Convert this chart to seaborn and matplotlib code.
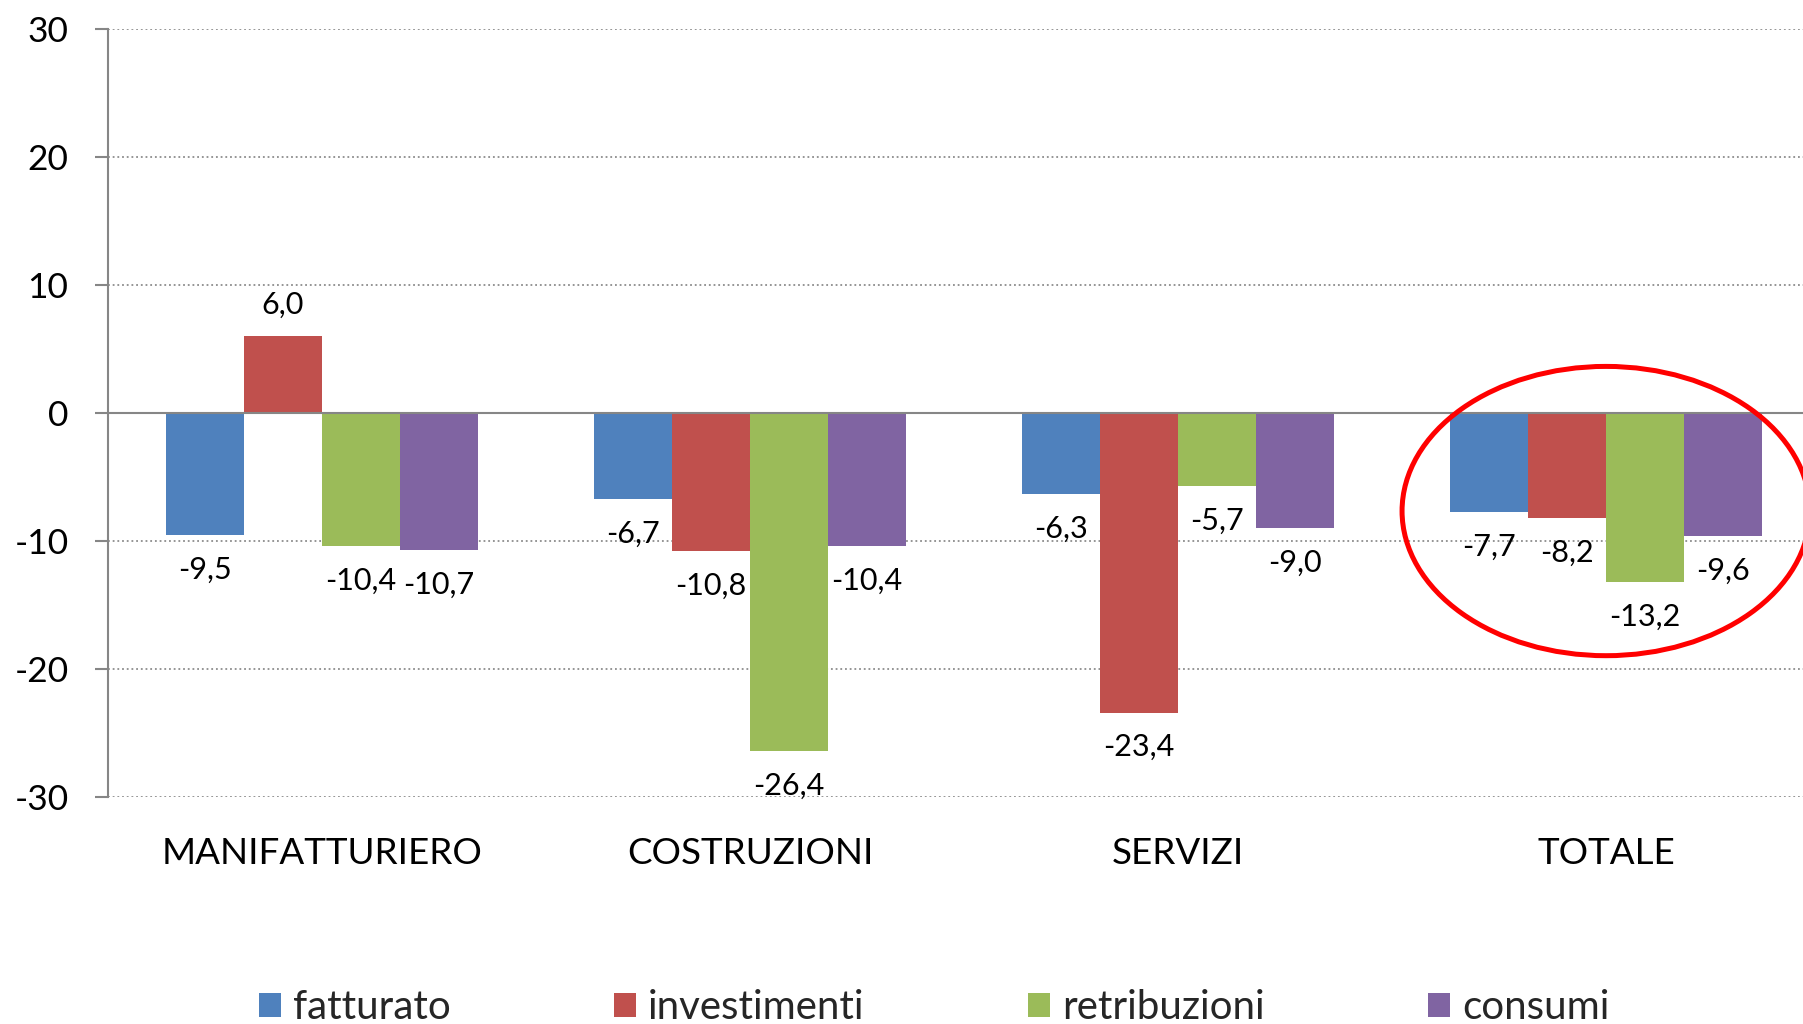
import matplotlib
matplotlib.use("Agg")
import matplotlib.pyplot as plt
from matplotlib.patches import Ellipse, Patch
import seaborn as sns
import pandas as pd

# Sectors and indicators
categories = ["MANIFATTURIERO", "COSTRUZIONI", "SERVIZI", "TOTALE"]
series_names = ["fatturato", "investimenti", "retribuzioni", "consumi"]

fatturato = [-9.5, -6.7, -6.3, -7.7]
investimenti = [6.0, -10.8, -23.4, -8.2]
retribuzioni = [-10.4, -26.4, -5.7, -13.2]
consumi = [-10.7, -10.4, -9.0, -9.6]

y_ticks = [-30, -20, -10, 0, 10, 20, 30]

colors = ["#4F81BD", "#C0504D", "#9BBB59", "#8064A2"]

sns.set_theme(style="white")
plt.rcParams["font.family"] = ["Lato", "DejaVu Sans"]

rows = []
for name, vals in zip(series_names, [fatturato, investimenti, retribuzioni, consumi]):
    for cat, v in zip(categories, vals):
        rows.append({"settore": cat, "indicatore": name, "valore": v})
df = pd.DataFrame(rows)

W, H = 1803, 1024
fig = plt.figure(figsize=(W / 100, H / 100), dpi=100)
ax = fig.add_axes([108 / W, 1 - 797 / H, 1712 / W, 768 / H])

sns.barplot(data=df, x="settore", y="valore", hue="indicatore",
            order=categories, hue_order=series_names, palette=colors,
            width=0.73, errorbar=None, saturation=1, ax=ax, zorder=3,
            edgecolor="none", linewidth=0)

ax.set_xlim(-0.5, 3.5)
ax.set_ylim(-30, 30)
ax.set_yticks(y_ticks)
ax.set_yticklabels([str(t) for t in y_ticks])
ax.set_xlabel("")
ax.set_ylabel("")

grid_color = "#8C8C8C"
for t in y_ticks:
    if t == 0:
        ax.axhline(0, color="#868686", lw=1.5, zorder=4)
    else:
        ax.axhline(t, color=grid_color, lw=1.3, ls=(0, (1, 1.6)), zorder=1)

for s in ["top", "right", "bottom"]:
    ax.spines[s].set_visible(False)
ax.spines["left"].set_color("#868686")
ax.spines["left"].set_linewidth(1.5)

ax.tick_params(axis="y", which="major", left=True, length=9.5, width=1.5,
               color="#868686", pad=19, labelsize=25.5, labelcolor="black")
ax.tick_params(axis="x", bottom=False, pad=23, labelsize=26.5, labelcolor="black")

# value labels beneath negative bars, above positive ones
for container, vals in zip(ax.containers, [fatturato, investimenti, retribuzioni, consumi]):
    for bar, v in zip(container, vals):
        xc = bar.get_x() + bar.get_width() / 2
        off = 22.5 if v >= 0 else -25
        ax.annotate(f"{v:.1f}".replace(".", ","), (xc, v), xytext=(0, off),
                    textcoords="offset points", ha="center", va="center",
                    fontsize=22, color="black", zorder=5)

# highlight on the total
ell = Ellipse((3.0, -7.66), width=0.953, height=22.6, fill=False,
              edgecolor="#FF0000", lw=3.6, zorder=6, clip_on=False)
ax.add_patch(ell)

ax.get_legend().remove()
handles = [Patch(facecolor=c, edgecolor="none") for c in colors]
fig.legend(handles, series_names, loc="center", bbox_to_anchor=(0.518, 0.016),
           ncol=4, frameon=False, fontsize=29, handlelength=0.55,
           handleheight=0.55, handletextpad=0.3, columnspacing=4.05,
           borderpad=0, borderaxespad=0)

fig.savefig("out.png", dpi=100)
